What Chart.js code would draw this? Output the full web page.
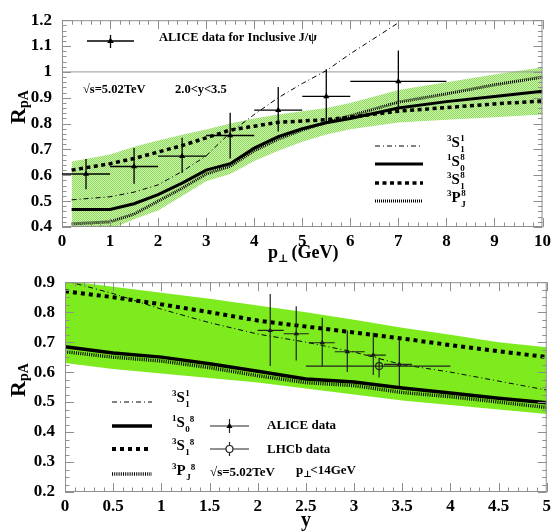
<!DOCTYPE html>
<html><head><meta charset="utf-8">
<script src="https://cdn.jsdelivr.net/npm/chart.js@4.4.1/dist/chart.umd.min.js"></script>
<style>
html,body{margin:0;padding:0;background:#fff;}
#wrap{position:relative;width:555px;height:532px;}
canvas{position:absolute;left:0;}
#c1{top:0;} #c2{top:262px;}
</style></head><body>
<div id="wrap"><canvas id="c1" width="555" height="262"></canvas><canvas id="c2" width="555" height="270"></canvas></div>
<script>
// ===== DATA: top panel (RpA vs pT) =====
const ptGrid   = [0.2, 1, 1.5, 2, 2.5, 3, 3.5, 4, 4.5, 5, 5.5, 6, 7, 8, 9, 10];
const ptS1c1   = [0.505,0.517,0.535,0.563,0.615,0.675,0.765,0.835,0.90,0.955,1.005,1.07,1.19,null,null,null];
const ptS0c8   = [0.468,0.468,0.49,0.525,0.57,0.62,0.645,0.705,0.75,0.78,0.803,0.82,0.86,0.885,0.905,0.925];
const ptS1c8   = [0.62,0.645,0.665,0.69,0.715,0.745,0.775,0.79,0.805,0.81,0.815,0.825,0.848,0.862,0.876,0.888];
const ptPJc8   = [0.412,0.42,0.45,0.50,0.55,0.605,0.635,0.695,0.74,0.775,0.805,0.83,0.883,0.915,0.95,0.98];
const ptBandHi = [0.653,0.68,0.71,0.735,0.757,0.777,0.80,0.82,0.835,0.848,0.86,0.88,0.93,0.96,0.99,1.018];
const ptBandLo = [0.36,0.39,0.43,0.464,0.52,0.577,0.605,0.655,0.695,0.73,0.758,0.778,0.804,0.815,0.825,0.835];
const ptRef    = [0, 10];
const ptRefY   = [1, 1];

const aliceX   = [0.5, 1.5, 2.5, 3.5, 4.5, 5.5, 7];
const aliceXLo = [0, 1, 2, 3, 4, 5, 6];
const aliceXHi = [1, 2, 3, 4, 5, 6, 8];
const aliceY   = [0.605,0.634,0.674,0.754,0.852,0.905,0.963];
const aliceYLo = [0.546,0.567,0.609,0.665,0.769,0.804,0.85];
const aliceYHi = [0.663,0.706,0.745,0.842,0.942,1.01,1.083];

// ===== DATA: bottom panel (RpA vs y) =====
const yGrid    = [0, 0.5, 1, 1.5, 2, 2.5, 3, 3.5, 4, 4.5, 5];
const yS1c1    = [0.905,0.862,0.81,0.765,0.727,0.70,0.667,0.625,0.60,0.57,0.54];
const yS0c8    = [0.685,0.664,0.65,0.628,0.603,0.577,0.567,0.547,0.53,0.513,0.498];
const yS1c8    = [0.87,0.85,0.826,0.80,0.772,0.752,0.732,0.712,0.69,0.67,0.65];
const yPJc8    = [0.668,0.65,0.637,0.615,0.588,0.565,0.555,0.532,0.518,0.5,0.482];
const yBandHi  = [0.905,0.885,0.865,0.845,0.822,0.80,0.775,0.748,0.725,0.70,0.683];
const yBandLo  = [0.63,0.61,0.595,0.58,0.565,0.545,0.525,0.505,0.49,0.475,0.46];

const rapX     = [2.13, 2.40, 2.67, 2.93, 3.20, 3.47];
const rapXLo   = [2.0, 2.27, 2.53, 2.80, 3.11, 3.31];
const rapXHi   = [2.27, 2.53, 2.80, 3.11, 3.33, 3.60];
const rapY     = [0.739,0.728,0.698,0.668,0.657,0.626];
const rapYLo   = [0.62,0.639,0.62,0.60,0.59,0.553];
const rapYHi   = [0.861,0.82,0.781,0.739,0.731,0.709];

const lhcbX = [3.26], lhcbXLo = [2.5], lhcbXHi = [4.0];
const lhcbY = [0.62], lhcbYLo = [0.582], lhcbYHi = [0.648];

// ===== HELPERS =====
const SERIF = '"Liberation Serif","DejaVu Serif",serif';
const FNT = (s) => 'bold ' + s + 'px ' + SERIF;
function pts(xs, ys){ return xs.map((x,i)=>({x, y:ys[i]})).filter(p=>p.y!==null); }
function ln(ctx,x1,y1,x2,y2){ ctx.beginPath(); ctx.moveTo(x1,y1); ctx.lineTo(x2,y2); ctx.stroke(); }

function curve(label, xs, ys, st, order){
  return {label, data:pts(xs,ys), borderColor:'#000', borderWidth:st.w, borderDash:st.dash||[],
          pointRadius:0, fill:false, tension:0, order:order||2, borderCapStyle:'butt'};
}

function term(ctx, x, y, pre, L, sup, sub, stacked, big){
  const ss = Math.round(big*0.62);
  ctx.fillStyle='#000'; ctx.textBaseline='alphabetic'; ctx.textAlign='left';
  ctx.font = FNT(ss); ctx.fillText(pre, x, y - big*0.42); x += ctx.measureText(pre).width;
  ctx.font = FNT(big); ctx.fillText(L, x, y); x += ctx.measureText(L).width + 0.5;
  ctx.font = FNT(ss);
  if (stacked){ ctx.fillText(sup, x, y - big*0.4); ctx.fillText(sub, x, y + big*0.3); }
  else { ctx.fillText(sub, x, y + big*0.3); x += ctx.measureText(sub).width; ctx.fillText(sup, x, y - big*0.32); }
}

function sample(ctx, x1, x2, y, st){
  ctx.save(); ctx.strokeStyle='#000'; ctx.lineWidth=st.w; ctx.setLineDash(st.dash||[]); ln(ctx,x1,y,x2,y); ctx.restore();
}

function tri(ctx, x, y, r){
  ctx.beginPath(); ctx.moveTo(x, y-r); ctx.lineTo(x+r*0.95, y+r*0.6); ctx.lineTo(x-r*0.95, y+r*0.6); ctx.closePath(); ctx.fill();
}

function yTitle(ctx, cx, y0){
  ctx.save(); ctx.translate(cx, y0); ctx.rotate(-Math.PI/2);
  ctx.fillStyle='#000'; ctx.textAlign='left'; ctx.textBaseline='alphabetic';
  ctx.font = FNT(22); ctx.fillText('R', 0, 0); const w = ctx.measureText('R').width;
  ctx.font = FNT(14); ctx.fillText('pA', w, 3);
  ctx.restore();
}

// frame + ROOT style inner ticks
function framePlugin(xMinor, xMajor, yMinor, yMajor){
  return {id:'frame', afterDatasetsDraw(chart){
    const {ctx, chartArea:a, scales:{x, y}} = chart;
    ctx.save(); ctx.strokeStyle='#8f8f8f'; ctx.lineWidth=1; ctx.setLineDash([]);
    ctx.strokeRect(a.left+0.5, a.top+0.5, a.right-a.left-1, a.bottom-a.top-1);
    let n = Math.round((x.max-x.min)/xMinor);
    for (let i=0;i<=n;i++){
      const v = x.min + i*xMinor, maj = Math.abs(Math.round(v/xMajor)*xMajor - v) < 1e-6;
      const L = maj ? 9 : 4.5, px = Math.round(x.getPixelForValue(v)) + 0.5;
      ln(ctx, px, a.bottom, px, a.bottom-L); ln(ctx, px, a.top, px, a.top+L);
    }
    n = Math.round((y.max-y.min)/yMinor);
    for (let i=0;i<=n;i++){
      const v = y.min + i*yMinor, maj = Math.abs(Math.round(v/yMajor)*yMajor - v) < 1e-6;
      const L = maj ? 9 : 4.5, py = Math.round(y.getPixelForValue(v)) + 0.5;
      ln(ctx, a.left, py, a.left+L, py); ln(ctx, a.right, py, a.right-L, py);
    }
    ctx.restore();
  }};
}

// horizontal + vertical error bars
function errPlugin(sets){
  return {id:'errbars', afterDatasetsDraw(chart){
    const {ctx, scales:{x, y}, chartArea:a} = chart;
    ctx.save(); ctx.beginPath(); ctx.rect(a.left, a.top, a.right-a.left, a.bottom-a.top); ctx.clip();
    sets.forEach(s=>{
      ctx.strokeStyle=s.color; ctx.lineWidth=s.w;
      s.x.forEach((xv,i)=>{
        const px=x.getPixelForValue(xv), py=y.getPixelForValue(s.y[i]);
        ln(ctx, x.getPixelForValue(s.xlo[i]), py, x.getPixelForValue(s.xhi[i]), py);
        ln(ctx, px, y.getPixelForValue(s.ylo[i]), px, y.getPixelForValue(s.yhi[i]));
      });
    });
    ctx.restore();
  }};
}

function axisOpts(min, max, step, fit, pad, dec){
  return {type:'linear', min, max,
    ticks:{stepSize:step, color:'#000', font:{family:SERIF, size:17, weight:'bold'}, padding:pad,
           autoSkip:false, maxRotation:0, callback:v=>String(+v.toFixed(dec))},
    grid:{display:false, drawTicks:false}, border:{display:false}, afterFit:fit};
}

// ===== TOP CHART =====
const stTop = {dd:{w:1, dash:[5,3,1,3]}, so:{w:3}, da:{w:3.5, dash:[4,3.5]}, dt:{w:3, dash:[1,1]}};
const pc = document.createElement('canvas'); pc.width=2; pc.height=2;
const pcx = pc.getContext('2d');
pcx.fillStyle='#d0f1b8'; pcx.fillRect(0,0,2,2);
pcx.fillStyle='#8ddc55'; pcx.fillRect(0,0,1,1); pcx.fillRect(1,1,1,1);
const ctx1 = document.getElementById('c1').getContext('2d');
const bandPat = ctx1.createPattern(pc, 'repeat');

const legTop = {id:'legTop', afterDraw(chart){
  const ctx = chart.ctx; ctx.save();
  // ALICE marker
  ctx.strokeStyle='#000'; ctx.fillStyle='#000'; ctx.lineWidth=1.3;
  ln(ctx, 87, 41, 134, 41); ln(ctx, 110.5, 35, 110.5, 48); tri(ctx, 110.5, 41, 3.5);
  ctx.font = FNT(12.5); ctx.textBaseline='middle'; ctx.textAlign='left';
  ctx.fillText('ALICE data for Inclusive J/\u03c8', 159, 38);
  ctx.fillText('\u221as=5.02TeV', 83, 90);
  ctx.fillText('2.0<y<3.5', 175, 90);
  // model legend
  sample(ctx, 375, 423, 146, stTop.dd); term(ctx, 447, 147, '3','S','1','1', true, 15);
  sample(ctx, 375, 423, 164, stTop.so); term(ctx, 447, 166, '1','S','8','0', true, 15);
  sample(ctx, 375, 423, 183, stTop.da); term(ctx, 447, 184, '3','S','8','1', true, 15);
  sample(ctx, 375, 423, 201, stTop.dt); term(ctx, 447, 202, '3','P','8','J', true, 15);
  // axis titles
  ctx.fillStyle='#000'; ctx.textBaseline='alphabetic'; ctx.textAlign='left';
  ctx.font = FNT(18); ctx.fillText('p', 268, 258);
  let w = ctx.measureText('p').width;
  ctx.font = FNT(11); ctx.fillText('\u22a5', 268+w, 262);
  ctx.font = FNT(18); ctx.fillText(' (GeV)', 268+w+9, 258);
  yTitle(ctx, 25, 124);
  ctx.restore();
}};

new Chart(ctx1, {
  type:'line',
  data:{datasets:[
    {label:'ref', data:pts(ptRef, ptRefY), borderColor:'#9a9a9a', borderWidth:1, pointRadius:0, fill:false, order:5},
    {label:'bandHi', data:pts(ptGrid, ptBandHi), borderWidth:0, pointRadius:0, backgroundColor:bandPat, fill:{target:2}, tension:0, order:9},
    {label:'bandLo', data:pts(ptGrid, ptBandLo), borderWidth:0, pointRadius:0, fill:false, tension:0, order:9},
    curve('3S1(1)', ptGrid, ptS1c1, stTop.dd),
    curve('1S0(8)', ptGrid, ptS0c8, stTop.so),
    curve('3S1(8)', ptGrid, ptS1c8, stTop.da),
    curve('3PJ(8)', ptGrid, ptPJc8, stTop.dt),
    {label:'ALICE', type:'scatter', data:pts(aliceX, aliceY), pointStyle:'triangle', pointRadius:3.5,
     backgroundColor:'#000', borderColor:'#000', borderWidth:0, order:0}
  ]},
  options:{
    responsive:false, animation:false, devicePixelRatio:1,
    layout:{padding:{left:0, right:12, top:15, bottom:0}},
    plugins:{legend:{display:false}, tooltip:{enabled:false}},
    scales:{
      x: axisOpts(0, 10, 1, s=>{s.height=35;}, 4, 0),
      y: axisOpts(0.4, 1.2, 0.1, s=>{s.width=62;}, 10, 1)
    }
  },
  plugins:[framePlugin(0.2, 1, 0.02, 0.1),
           errPlugin([{x:aliceX, xlo:aliceXLo, xhi:aliceXHi, y:aliceY, ylo:aliceYLo, yhi:aliceYHi, color:'#000', w:1.3}]),
           legTop]
});

// ===== BOTTOM CHART =====
const stBot = {dd:{w:1, dash:[5,3,1,3]}, so:{w:3.5}, da:{w:4, dash:[4,4]}, dt:{w:3.5, dash:[1,1.2]}};
const ctx2 = document.getElementById('c2').getContext('2d');

const legBot = {id:'legBot', afterDraw(chart){
  const ctx = chart.ctx; ctx.save();
  sample(ctx, 112, 152, 140, stBot.dd); term(ctx, 172, 140, '3','S','1','1', true, 15);
  sample(ctx, 112, 152, 164, stBot.so); term(ctx, 172, 165, '1','S','8','0', false, 15);
  sample(ctx, 112, 152, 187, stBot.da); term(ctx, 172, 188, '3','S','8','1', false, 15);
  sample(ctx, 112, 152, 212, stBot.dt); term(ctx, 172, 213, '3','P','8','J', false, 15);
  // data markers
  ctx.strokeStyle='#222'; ctx.fillStyle='#000'; ctx.lineWidth=1.2;
  ln(ctx, 210, 164, 249, 164); ln(ctx, 229.5, 157, 229.5, 171); tri(ctx, 229.5, 164, 3.2);
  ln(ctx, 210, 187, 249, 187); ln(ctx, 229.5, 180, 229.5, 194);
  ctx.beginPath(); ctx.arc(229.5, 187, 3.5, 0, Math.PI*2); ctx.fillStyle='#fff'; ctx.fill(); ctx.stroke();
  ctx.fillStyle='#000'; ctx.font=FNT(13); ctx.textBaseline='middle'; ctx.textAlign='left';
  ctx.fillText('ALICE data', 267, 164);
  ctx.fillText('LHCb data', 267, 188);
  ctx.fillText('\u221as=5.02TeV', 210, 211);
  ctx.fillText('p', 296, 209);
  let w = ctx.measureText('p').width;
  ctx.font=FNT(9); ctx.fillText('\u22a5', 296+w, 213);
  ctx.font=FNT(13); ctx.fillText('<14GeV', 296+w+7, 209);
  // axis titles
  ctx.textBaseline='alphabetic'; ctx.textAlign='center'; ctx.font=FNT(20);
  ctx.fillText('y', 306, 264);
  yTitle(ctx, 25, 135);
  ctx.restore();
}};

new Chart(ctx2, {
  type:'line',
  data:{datasets:[
    {label:'bandHi', data:pts(yGrid, yBandHi), borderWidth:0, pointRadius:0, backgroundColor:'#7deb1e', fill:{target:1}, tension:0, order:9},
    {label:'bandLo', data:pts(yGrid, yBandLo), borderWidth:0, pointRadius:0, fill:false, tension:0, order:9},
    curve('3S1(1)', yGrid, yS1c1, stBot.dd),
    curve('1S0(8)', yGrid, yS0c8, stBot.so),
    curve('3S1(8)', yGrid, yS1c8, stBot.da),
    curve('3PJ(8)', yGrid, yPJc8, stBot.dt),
    {label:'ALICE', type:'scatter', data:pts(rapX, rapY), pointStyle:'triangle', pointRadius:3,
     backgroundColor:'#000', borderColor:'#000', borderWidth:0, order:0},
    {label:'LHCb', type:'scatter', data:pts(lhcbX, lhcbY), pointStyle:'circle', pointRadius:3.5,
     backgroundColor:'rgba(0,0,0,0)', borderColor:'#222', borderWidth:1.1, order:0}
  ]},
  options:{
    responsive:false, animation:false, devicePixelRatio:1,
    layout:{padding:{left:0, right:7, top:19, bottom:0}},
    plugins:{legend:{display:false}, tooltip:{enabled:false}},
    scales:{
      x: axisOpts(0, 5, 0.5, s=>{s.height=40;}, 4, 1),
      y: axisOpts(0.2, 0.9, 0.1, s=>{s.width=65;}, 10, 1)
    }
  },
  plugins:[framePlugin(0.1, 0.5, 0.025, 0.1),
           errPlugin([{x:rapX, xlo:rapXLo, xhi:rapXHi, y:rapY, ylo:rapYLo, yhi:rapYHi, color:'#222', w:1.2},
                      {x:lhcbX, xlo:lhcbXLo, xhi:lhcbXHi, y:lhcbY, ylo:lhcbYLo, yhi:lhcbYHi, color:'#222', w:1.2}]),
           legBot]
});
</script>
</body></html>
